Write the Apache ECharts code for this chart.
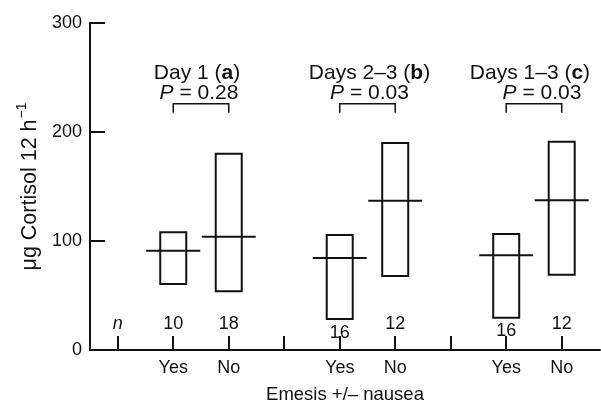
<!DOCTYPE html>
<html><head><meta charset="utf-8">
<script src="https://cdn.jsdelivr.net/npm/echarts@6/dist/echarts.min.js"></script>
<style>html,body{margin:0;padding:0;background:#fff}#c{width:601px;height:404px}</style>
</head><body><div id="c"></div>
<script>
// ---- data ----
const xCategories = ['', 'Yes', 'No', '', 'Yes', 'No', '', 'Yes', 'No'];
const boxPositions = [1, 2, 4, 5, 7, 8];
const boxHigh = [108, 180, 105.5, 190, 106.5, 191];
const boxLow = [60.5, 54, 28.5, 68, 29.5, 69];
const boxMedian = [91, 104, 84.5, 137, 87, 137.5];
const counts = ['10', '18', '16', '12', '16', '12'];
const groupTitles = ['Day 1', 'Days 2\u20133', 'Days 1\u20133'];
const groupLetters = ['a', 'b', 'c'];
const pValues = ['0.28', '0.03', '0.03'];
const yTicks = [0, 100, 200, 300];

const FONT = '"Liberation Sans", Arial, Helvetica, sans-serif';
const INK = '#111';

const chart = echarts.init(document.getElementById('c'), null, {renderer: 'canvas'});

const boxData = boxPositions.map((x, i) => [x, boxLow[i], boxHigh[i], boxMedian[i]]);
const countData = boxPositions.map((x, i) => [x, Math.min(24, boxLow[i] - 12.5), counts[i]]);
countData.unshift([0, 24, 'n']);
const groupData = groupTitles.map((t, g) => [boxPositions[2 * g], boxPositions[2 * g + 1], g]);

const titleDx = [-4, 2, -4];
const pDx = [-2, 2, 8];

const option = {
  animation: false,
  backgroundColor: '#fff',
  grid: {left: 90, right: 1, top: 23, bottom: 54, containLabel: false, outerBoundsMode: 'none'},
  xAxis: {
    type: 'value', min: -0.5, max: 8.69,
    splitLine: {show: false},
    axisLine: {show: true, onZero: false, lineStyle: {color: INK, width: 2}},
    axisTick: {show: true, inside: true, length: 14, lineStyle: {color: INK, width: 2},
      customValues: xCategories.map((c, i) => i)},
    axisLabel: {show: true, margin: 9, color: INK, fontSize: 18, fontFamily: FONT,
      customValues: boxPositions,
      formatter: v => xCategories[Math.round(v)]},
    name: 'Emesis +/\u2013 nausea', nameLocation: 'middle', nameGap: 35,
    nameTextStyle: {color: INK, fontSize: 18.5, fontFamily: FONT}
  },
  yAxis: {
    type: 'value', min: 0, max: 300, interval: 100,
    splitLine: {show: false},
    axisLine: {show: true, onZero: false, lineStyle: {color: INK, width: 2}},
    axisTick: {show: true, inside: true, length: 15, lineStyle: {color: INK, width: 2}},
    axisLabel: {margin: 8, color: INK, fontSize: 18, fontFamily: FONT,
      formatter: v => yTicks.includes(v) ? String(v) : ''},
    name: '{a|\u03bcg Cortisol 12 h}{s|\u22121}', nameLocation: 'middle', nameGap: 48,
    nameTextStyle: {
      color: INK, fontFamily: FONT,
      rich: {
        a: {fontSize: 21.5, fontFamily: FONT, color: INK, lineHeight: 26, verticalAlign: 'bottom'},
        s: {fontSize: 14, fontFamily: FONT, color: INK, lineHeight: 26, verticalAlign: 'top', padding: [0, 0, 10, 1]}
      }
    }
  },
  series: [
    {
      type: 'custom', name: 'boxes', data: boxData, clip: false,
      renderItem: (params, api) => {
        const x = api.value(0);
        const lo = api.coord([x, api.value(1)]);
        const hi = api.coord([x, api.value(2)]);
        const md = api.coord([x, api.value(3)]);
        return {type: 'group', children: [
          {type: 'rect', shape: {x: lo[0] - 13, y: hi[1], width: 26, height: lo[1] - hi[1]},
            style: {fill: 'none', stroke: INK, lineWidth: 2}},
          {type: 'line', shape: {x1: md[0] - 27, y1: md[1], x2: md[0] + 27, y2: md[1]},
            style: {stroke: INK, lineWidth: 2}}
        ]};
      }
    },
    {
      type: 'custom', name: 'counts', data: countData, clip: false,
      encode: {x: 0, y: 1},
      renderItem: (params, api) => {
        const d = countData[params.dataIndex];
        const p = api.coord([d[0], d[1]]);
        return {type: 'text', style: {text: d[2], x: p[0], y: p[1], align: 'center', verticalAlign: 'middle',
          font: (d[2] === 'n' ? 'italic ' : '') + '18px ' + FONT, fill: INK}};
      }
    },
    {
      type: 'custom', name: 'groups', data: groupData, clip: false,
      encode: {x: [0, 1]},
      renderItem: (params, api) => {
        const g = groupData[params.dataIndex][2];
        const a = api.coord([api.value(0), 226]);
        const b = api.coord([api.value(1), 226]);
        const mid = (a[0] + b[0]) / 2;
        const tY = api.coord([0, 254])[1];
        const pY = api.coord([0, 235.5])[1];
        return {type: 'group', children: [
          {type: 'polyline', shape: {points: [[a[0], a[1] + 9], [a[0], a[1]], [b[0], b[1]], [b[0], b[1] + 9]]},
            style: {fill: 'none', stroke: INK, lineWidth: 1.5}},
          {type: 'text', style: {
            text: '{n|' + groupTitles[g] + ' (}{b|' + groupLetters[g] + '}{n|)}',
            x: mid + titleDx[g], y: tY, align: 'center', verticalAlign: 'middle',
            rich: {n: {font: '21px ' + FONT, fill: INK}, b: {font: 'bold 21px ' + FONT, fill: INK}}}},
          {type: 'text', style: {
            text: '{i|P}{n| = ' + pValues[g] + '}',
            x: mid + pDx[g], y: pY, align: 'center', verticalAlign: 'middle',
            rich: {n: {font: '21px ' + FONT, fill: INK}, i: {font: 'italic 21px ' + FONT, fill: INK}}}}
        ]};
      }
    }
  ]
};
chart.setOption(option);
</script>
</body></html>
